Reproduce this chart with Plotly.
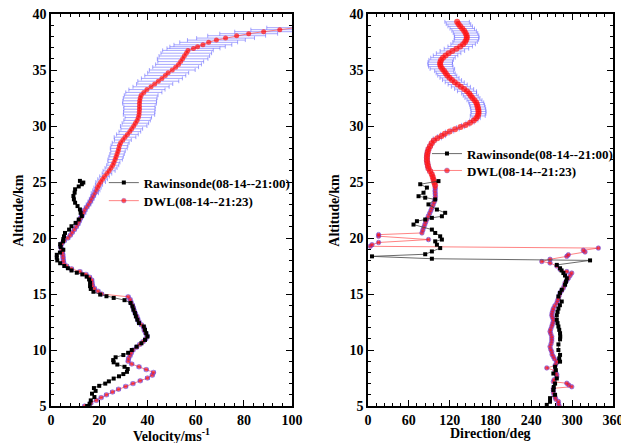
import plotly.graph_objects as go

# ---------------- Left panel: wind speed ----------------
dwl_alt_l = [5.0, 5.25, 5.5, 5.75, 6.0, 6.25, 6.5, 6.75, 7.0, 7.25, 7.5, 7.75, 8.0, 8.25, 8.5, 8.75,
             9.0, 9.25, 9.5, 9.75, 10.0, 10.25, 10.5, 10.75, 11.0, 11.25, 11.5, 11.75, 12.0, 12.25, 12.5, 12.75,
             13.0, 13.25, 13.5, 13.75, 14.0, 14.25, 14.5, 14.75, 15.0, 15.25, 15.5, 15.75, 16.0, 16.25, 16.5, 16.75,
             17.0, 17.25, 17.5, 17.75, 18.0, 18.25, 18.5, 18.75, 19.0, 19.25, 19.5, 19.75, 20.0, 20.25, 20.5, 20.75,
             21.0, 21.25, 21.5, 21.75, 22.0, 22.25, 22.5, 22.75, 23.0, 23.25, 23.5, 23.75, 24.0, 24.25, 24.5, 24.75,
             25.0, 25.25, 25.5, 25.75, 26.0, 26.25, 26.5, 26.75, 27.0, 27.25, 27.5, 27.75, 28.0, 28.25, 28.5, 28.75,
             29.0, 29.25, 29.5, 29.75, 30.0, 30.25, 30.5, 30.75, 31.0, 31.25, 31.5, 31.75, 32.0, 32.25, 32.5, 32.75,
             33.0, 33.25, 33.5, 33.75, 34.0, 34.25, 34.5, 34.75, 35.0, 35.25, 35.5, 35.75, 36.0, 36.25, 36.5, 36.75,
             36.93, 37.08, 37.25, 37.47, 37.67, 37.85, 38.06, 38.24, 38.42, 38.6, 38.78]
dwl_vel = [14.0, 16.5, 18.8, 20.8, 23.0, 25.5, 28.0, 31.0, 34.0, 37.0, 40.0, 42.0, 42.5, 39.5, 36.5, 33.5,
           32.0, 32.2, 32.8, 33.3, 34.0, 35.5, 36.8, 38.2, 39.3, 39.9, 39.3, 38.7, 38.5, 37.5, 36.5, 36.0,
           35.6, 35.0, 34.5, 34.2, 33.8, 33.2, 32.8, 32.0, 21.0, 19.5, 18.0, 17.2, 17.0, 16.9, 16.0, 14.5,
           12.0, 8.5, 6.5, 5.3, 5.1, 5.0, 4.9, 4.7, 4.4, 4.0, 4.5, 5.5, 7.0, 8.0, 8.8, 9.7,
           10.5, 11.2, 11.7, 12.2, 12.8, 13.5, 14.0, 14.8, 15.6, 16.3, 16.9, 17.5, 18.2, 18.8, 19.3, 19.9,
           20.6, 21.4, 22.2, 23.2, 24.1, 24.9, 25.6, 26.1, 26.6, 27.0, 27.4, 27.8, 28.1, 28.4, 28.9, 29.8,
           30.7, 31.7, 32.7, 33.5, 34.3, 35.0, 35.7, 36.2, 36.5, 36.6, 36.7, 36.7, 36.7, 36.8, 37.0, 37.4,
           38.5, 39.8, 41.5, 43.0, 44.5, 46.0, 47.4, 48.6, 50.3, 51.7, 52.9, 53.8, 54.6, 55.3, 56.1, 56.8,
           59.1, 60.8, 63.0, 65.4, 68.6, 72.4, 77.0, 82.0, 88.2, 94.9, 101.5]
dwl_vel_err = [0.8, 0.8, 0.8, 0.8, 0.8, 0.8, 0.8, 0.8, 0.8, 0.8, 0.8, 0.8, 0.8, 0.8, 0.8, 0.8,
               0.8, 0.8, 0.8, 0.8, 0.8, 0.8, 0.8, 0.8, 0.8, 0.8, 0.8, 0.8, 0.8, 0.8, 0.8, 0.8,
               0.8, 0.8, 0.8, 0.8, 0.8, 0.8, 0.8, 0.8, 0.8, 0.8, 0.8, 0.8, 0.8, 0.8, 0.8, 0.8,
               0.8, 0.8, 0.8, 0.8, 0.8, 0.8, 0.8, 0.8, 0.8, 0.8, 0.8, 0.8, 0.8, 0.8, 0.8, 0.8,
               0.8, 0.8, 0.8, 0.8, 1.0, 1.0, 1.0, 1.0, 1.0, 1.0, 1.0, 1.0, 1.5, 1.5, 1.5, 1.5,
               2.0, 2.0, 2.0, 2.0, 2.5, 2.5, 2.5, 2.5, 3.0, 3.0, 3.0, 3.0, 3.5, 3.5, 3.5, 3.5,
               4.5, 4.5, 4.5, 4.5, 5.5, 5.5, 5.5, 5.5, 6.5, 6.5, 6.5, 6.5, 7.0, 7.0, 7.0, 7.0,
               7.5, 7.5, 7.5, 7.5, 8.5, 8.5, 8.5, 8.5, 9.5, 9.5, 9.5, 9.5, 10.5, 10.5, 10.5, 10.5,
               11.0, 11.5, 12.0, 12.0, 12.0, 12.0, 12.0, 12.0, 12.0, 12.0, 12.0]

ras_alt_l = [5.0, 5.2, 5.5, 5.8, 6.1, 6.35, 6.6, 6.8, 7.0, 7.2, 7.45, 7.65, 7.85, 8.05, 8.3, 8.5,
             8.7, 8.9, 9.1, 9.35, 9.55, 9.75, 10.0, 10.3, 10.6, 10.9, 11.2, 11.5, 11.8, 12.1, 12.4, 12.7,
             13.0, 13.3, 13.6, 13.9, 14.2, 14.45, 14.65, 14.8, 14.95, 15.2, 15.45, 15.7, 16.0, 16.3, 16.55, 16.75,
             16.9, 17.1, 17.3, 17.5, 17.75, 18.0, 18.25, 18.5, 18.7, 18.95, 19.2, 19.45, 19.7, 19.9, 20.15, 20.45,
             20.75, 21.05, 21.35, 21.65, 21.95, 22.25, 22.55, 22.85, 23.15, 23.45, 23.75, 24.05, 24.35, 24.6, 24.8, 24.95,
             25.1]
ras_vel = [15.0, 16.0, 16.5, 18.0, 17.0, 18.5, 17.8, 20.0, 22.5, 24.0, 26.0, 28.2, 30.0, 31.5, 31.8, 30.5,
           27.5, 26.0, 25.8, 26.8, 30.0, 32.0, 33.5, 35.5, 37.5, 39.0, 40.0, 39.5, 39.0, 38.5, 36.5, 35.8,
           35.2, 34.8, 34.2, 33.8, 33.0, 30.5, 26.0, 23.0, 20.4, 17.6, 16.5, 16.2, 16.2, 15.8, 14.8, 13.0,
           10.7, 8.5, 7.0, 5.5, 3.8, 2.6, 2.4, 2.4, 3.7, 5.1, 4.0, 3.8, 5.0, 5.1, 5.4, 5.8,
           7.5, 8.5, 10.2, 11.5, 12.8, 12.3, 12.0, 11.0, 10.0, 9.5, 9.3, 9.8, 10.0, 11.5, 12.8, 13.4,
           12.0]

# ---------------- Right panel: wind direction ----------------
dwl_alt_r = [5.0, 5.2, 5.4, 5.6, 5.8, 6.0, 6.2, 6.4, 6.58, 6.72, 6.87, 7.03, 7.17, 7.35, 7.6, 7.8,
             7.95, 8.15, 8.4, 8.6, 8.8, 9.0, 9.2, 9.4, 9.6, 9.85, 10.05, 10.3, 10.55, 10.8, 11.0, 11.2,
             11.45, 11.65, 11.85, 12.1, 12.3, 12.5, 12.7, 12.9, 13.1, 13.3, 13.5, 13.7, 13.95, 14.2, 14.4, 14.6,
             14.85, 15.1, 15.3, 15.53, 15.75, 16.0, 16.2, 16.4, 16.65, 16.87, 17.0, 17.2, 17.5, 17.77, 17.9, 18.1,
             18.36, 18.5, 18.75, 18.9, 19.1, 19.26, 19.4, 19.6, 19.86, 20.16, 20.3, 20.45,
             20.7, 20.95, 21.2, 21.45, 21.7, 21.95, 22.2, 22.45, 22.7, 22.95, 23.2, 23.45, 23.7, 23.95, 24.2, 24.45,
             24.7, 24.95, 25.2, 25.45, 25.7, 25.95, 26.2, 26.45, 26.7, 26.95, 27.2, 27.45, 27.7, 27.95, 28.2, 28.45,
             28.7, 28.9, 29.1, 29.3, 29.5, 29.7, 29.9, 30.1, 30.3, 30.5, 30.7, 30.9, 31.1, 31.3, 31.5, 31.7,
             31.9, 32.1, 32.3, 32.5, 32.7, 32.9, 33.1, 33.3, 33.5, 33.7, 33.9, 34.1, 34.3, 34.5, 34.7, 34.9,
             35.1, 35.3, 35.5, 35.7, 35.9, 36.1, 36.3, 36.5, 36.7, 36.9, 37.1, 37.3, 37.5, 37.7, 37.9, 38.1,
             38.3, 38.5, 38.7, 38.9, 39.1, 39.3]
dwl_dir = [281.0, 279.8, 279.8, 276.0, 274.9, 273.5, 272.4, 272.4, 272.4, 299.4, 295.0, 292.1, 272.4, 273.5, 277.4, 277.4,
           276.0, 274.9, 262.7, 274.9, 276.5, 277.4, 274.0, 272.4, 270.5, 270.0, 268.5, 267.5, 269.0, 270.0, 270.0, 270.0,
           268.5, 267.5, 268.5, 270.0, 271.0, 272.0, 272.4, 271.0, 270.0, 270.5, 271.5, 272.4, 274.5, 277.4, 278.5, 279.8,
           281.0, 282.2, 284.5, 287.1, 288.5, 289.6, 292.0, 294.4, 297.0, 299.4, 292.1, 282.2, 277.4, 267.5, 255.4, 267.5,
           292.1, 294.4, 318.9, 316.4, 338.5, 3.4, 5.9, 15.6, 88.9, 15.6, 15.6, 79.3,
           80.5, 82.0, 83.5, 85.0, 86.8, 88.6, 90.6, 92.4, 94.0, 95.6, 97.2, 98.5, 99.0, 98.8, 98.6, 98.8,
           98.6, 97.4, 96.3, 95.2, 93.8, 91.3, 89.0, 88.0, 87.2, 86.6, 86.6, 87.0, 87.8, 89.0, 91.2, 93.6,
           96.8, 102.0, 108.0, 113.0, 120.0, 128.0, 136.0, 143.5, 150.0, 155.5, 159.0, 161.3, 162.3, 162.5, 162.0, 161.2,
           160.3, 159.0, 156.5, 153.5, 151.0, 148.7, 145.5, 141.3, 136.5, 131.8, 127.5, 123.5, 119.8, 116.5, 114.2, 112.0,
           109.3, 107.0, 106.0, 106.2, 107.5, 110.2, 114.0, 118.5, 124.0, 130.0, 135.5, 139.8, 142.7, 144.5, 145.3, 144.8,
           143.3, 141.3, 138.5, 135.5, 133.0, 131.0]
dwl_dir_err = [1.5, 1.5, 1.5, 1.5, 1.5, 1.5, 1.5, 1.5, 1.5, 1.5, 1.5, 1.5, 1.5, 1.5, 1.5, 1.5,
               1.5, 1.5, 1.5, 1.5, 1.5, 1.5, 1.5, 1.5, 1.5, 1.5, 1.5, 1.5, 1.5, 1.5, 1.5, 1.5,
               1.5, 1.5, 1.5, 1.5, 1.5, 1.5, 1.5, 1.5, 1.5, 1.5, 1.5, 1.5, 1.5, 1.5, 1.5, 1.5,
               1.5, 1.5, 1.5, 1.5, 1.5, 1.5, 1.5, 1.5, 1.5, 1.5, 1.5, 1.5, 1.5, 1.5, 1.5, 1.5,
               1.5, 1.5, 1.5, 1.5, 1.5, 1.5, 1.5, 1.5, 1.5, 1.5, 1.5, 1.5,
               2.0, 2.0, 2.0, 2.0, 2.0, 2.0, 2.0, 2.0, 2.0, 2.0, 2.0, 2.0, 2.0, 2.5, 2.5, 2.5,
               2.5, 2.5, 2.5, 2.5, 2.5, 3.5, 3.5, 3.5, 3.5, 3.5, 3.5, 3.5, 3.5, 3.5, 3.5, 3.5,
               3.5, 6.0, 6.0, 6.0, 6.0, 6.0, 6.0, 6.0, 6.0, 6.0, 6.0, 11.0, 11.0, 11.0, 11.0, 11.0,
               11.0, 11.0, 11.0, 11.0, 11.0, 11.0, 14.0, 14.0, 14.0, 14.0, 14.0, 14.0, 14.0, 14.0, 14.0, 14.0,
               18.0, 18.0, 18.0, 18.0, 18.0, 18.0, 18.0, 18.0, 18.0, 18.0, 18.0, 18.0, 18.0, 18.0, 18.0, 18.0,
               18.0, 18.0, 18.0, 18.0, 18.0, 18.0]

ras_alt_r = [5.1, 5.38, 5.7, 6.0, 6.43, 6.7, 7.0, 7.46, 7.9, 8.2, 8.5, 8.96, 9.25, 9.56, 10.0, 10.5,
             10.95, 11.2, 11.5, 11.8, 12.1, 12.4, 12.7, 13.1, 13.4, 13.7, 14.0, 14.33, 14.78, 15.1, 15.38, 15.83,
             16.1, 16.4, 16.65, 16.87, 17.1, 17.3, 17.6, 18.0, 18.15, 18.36, 18.55, 18.8, 19.1, 19.4, 19.7, 19.86,
             20.15, 20.45, 20.75, 21.2, 21.5, 21.65, 21.8, 21.94, 22.25, 22.54, 23.0, 23.44, 23.6, 23.73, 24.04, 24.5,
             24.8, 25.08]
ras_dir = [262.7, 267.5, 267.5, 274.9, 272.4, 273.0, 274.9, 277.4, 272.4, 276.0, 274.9, 282.2, 281.0, 282.2, 279.8, 279.8,
           282.2, 282.5, 282.2, 281.0, 279.8, 278.5, 277.4, 277.4, 278.5, 279.8, 282.0, 284.7, 279.8, 282.0, 284.7, 289.6,
           291.0, 292.1, 289.5, 287.1, 284.5, 282.2, 277.4, 326.3, 93.9, 5.9, 84.1, 93.9, 106.1, 101.3, 98.8, 108.6,
           106.1, 98.8, 93.9, 66.9, 71.9, 84.1, 93.9, 108.6, 113.4, 101.3, 88.9, 98.8, 84.1, 74.3, 81.6, 86.6,
           76.8, 103.6]

# tick values
vel_ticks = [0, 20, 40, 60, 80, 100]
dir_ticks = [0, 60, 120, 180, 240, 300, 360]
alt_ticks = [5, 10, 15, 20, 25, 30, 35, 40]

FONT = "Liberation Serif, Times New Roman, serif"
RAS_NAME = "Rawinsonde(08-14--21:00)"
DWL_NAME = "DWL(08-14--21:23)"
ERR_COLOR = "rgba(70,70,255,0.6)"
LOW_EDGE = "rgba(90,60,230,0.75)"


def marker_style(alts, size_low, size_high):
    sizes = [size_low if a < 24.5 else size_high for a in alts]
    edges = [LOW_EDGE if a < 24.5 else "rgba(0,0,0,0)" for a in alts]
    widths = [1 if a < 24.5 else 0 for a in alts]
    return dict(color="#ff1010", size=sizes, symbol="circle",
                line=dict(color=edges, width=widths))


fig = go.Figure()

fig.add_trace(go.Scatter(
    x=dwl_vel, y=dwl_alt_l, mode="lines+markers", name=DWL_NAME, showlegend=True,
    line=dict(color="rgba(255,60,60,0.8)", width=0.8),
    marker=marker_style(dwl_alt_l, 4.5, 5),
    error_x=dict(type="data", array=dwl_vel_err, color=ERR_COLOR, thickness=0.8, width=2),
    xaxis="x", yaxis="y", legend="legend2"))
fig.add_trace(go.Scatter(
    x=ras_vel, y=ras_alt_l, mode="lines+markers", name=RAS_NAME, showlegend=True,
    line=dict(color="#444444", width=0.8),
    marker=dict(color="black", size=4, symbol="square"),
    xaxis="x", yaxis="y", legend="legend"))

fig.add_trace(go.Scatter(
    x=dwl_dir, y=dwl_alt_r, mode="lines+markers", name=DWL_NAME, showlegend=True,
    line=dict(color="rgba(255,60,60,0.8)", width=0.8),
    marker=marker_style(dwl_alt_r, 4.5, 6),
    error_x=dict(type="data", array=dwl_dir_err, color=ERR_COLOR, thickness=0.8, width=2),
    xaxis="x2", yaxis="y2", legend="legend4"))
fig.add_trace(go.Scatter(
    x=ras_dir, y=ras_alt_r, mode="lines+markers", name=RAS_NAME, showlegend=True,
    line=dict(color="#444444", width=0.8),
    marker=dict(color="black", size=4, symbol="square"),
    xaxis="x2", yaxis="y2", legend="legend3"))

axis_common = dict(
    showline=True, linecolor="black", linewidth=1.5, mirror="allticks",
    ticks="inside", ticklen=6, tickwidth=1.3, tickcolor="black",
    showgrid=False, zeroline=False, automargin=False, ticklabeloverflow="allow",
    tickfont=dict(family=FONT, size=14, color="black", weight="bold"),
)

title_font = dict(family=FONT, size=14, color="black", weight="bold")
legend_font = dict(family=FONT, size=13, color="black", weight="bold")


def legend_box(x, y):
    return dict(x=x, y=y, xanchor="left", yanchor="top", bgcolor="rgba(0,0,0,0)",
                font=legend_font, borderwidth=0, visible=True)


# the page body adds an 8 px offset, so the figure is sized/margined to compensate
fig.update_layout(
    width=621, height=435,
    margin=dict(l=43, r=16, t=6, b=37),
    showlegend=True,
    paper_bgcolor="white", plot_bgcolor="white",
    font=dict(family=FONT, color="black"),
    xaxis=dict(domain=[0, 0.429], range=[0, 100], tickvals=vel_ticks, anchor="y",
               minor=dict(dtick=4, ticks="inside", ticklen=3, tickcolor="black"),
               **axis_common),
    yaxis=dict(domain=[0, 1], range=[5, 40], tickvals=alt_ticks, anchor="x",
               minor=dict(dtick=1, ticks="inside", ticklen=3, tickcolor="black"),
               **axis_common),
    xaxis2=dict(domain=[0.564, 1], range=[0, 360], tickvals=dir_ticks, anchor="y2",
                minor=dict(dtick=12, ticks="inside", ticklen=3, tickcolor="black"),
                **axis_common),
    yaxis2=dict(domain=[0, 1], range=[5, 40], tickvals=alt_ticks, anchor="x2",
                minor=dict(dtick=1, ticks="inside", ticklen=3, tickcolor="black"),
                **axis_common),
    legend=legend_box(0.094, 0.608),
    legend2=legend_box(0.094, 0.562),
    legend3=legend_box(0.669, 0.682),
    legend4=legend_box(0.669, 0.639),
    annotations=[
        dict(text="Velocity/ms<sup>-1</sup>", xref="paper", yref="paper", x=0.2145, y=-0.073,
             xanchor="center", yanchor="middle", showarrow=False, font=title_font),
        dict(text="Direction/deg", xref="paper", yref="paper", x=0.782, y=-0.069,
             xanchor="center", yanchor="middle", showarrow=False, font=title_font),
        dict(text="Altitude/km", xref="paper", yref="paper", x=-0.059, y=0.5,
             xanchor="center", yanchor="middle", textangle=-90, showarrow=False, font=title_font),
        dict(text="Altitude/km", xref="paper", yref="paper", x=0.503, y=0.5,
             xanchor="center", yanchor="middle", textangle=-90, showarrow=False, font=title_font),
    ],
)

fig.write_html("out.html")
